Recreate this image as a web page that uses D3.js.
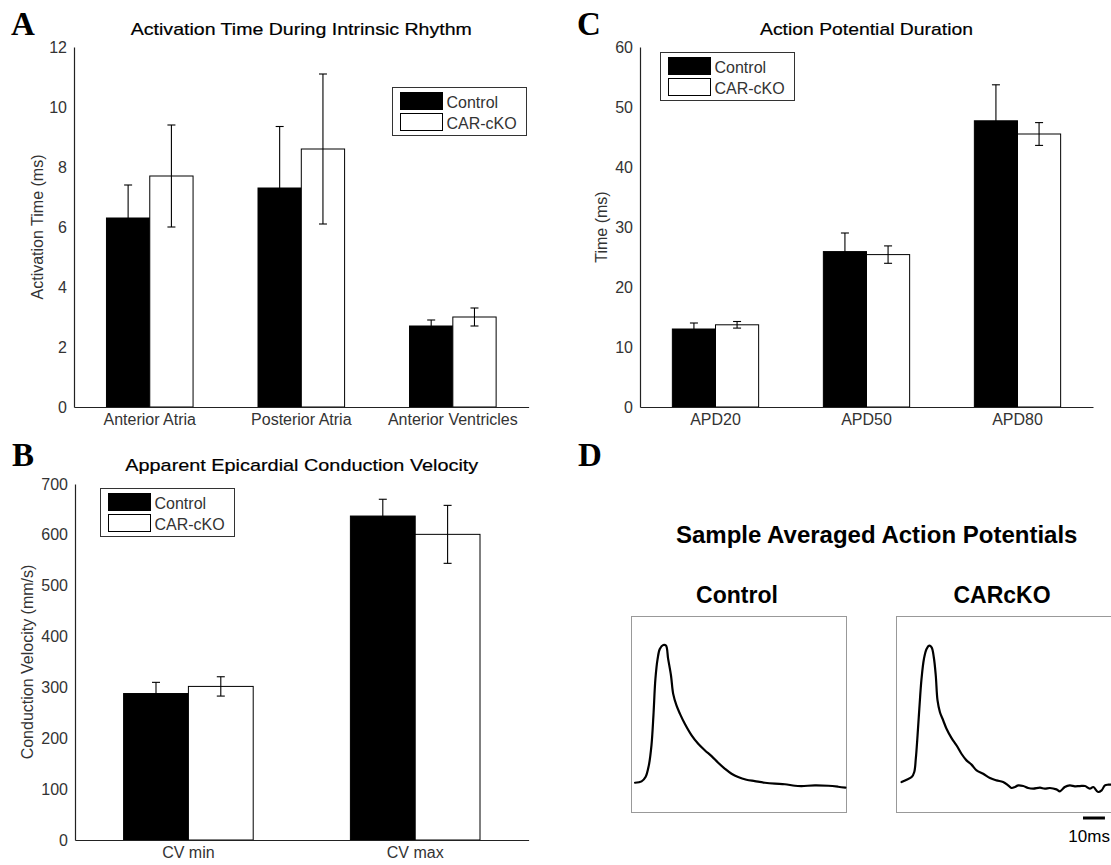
<!DOCTYPE html>
<html>
<head>
<meta charset="utf-8">
<script src="https://cdn.jsdelivr.net/npm/d3@7"></script>
<style>
  html, body { margin: 0; padding: 0; background: #fff; }
  svg { display: block; font-family: "Liberation Sans", Arial, sans-serif; }
</style>
</head>
<body>
<svg id="fig" width="1111" height="865"></svg>
<script>
// ---------- data ----------
const seriesNames = ["Control", "CAR-cKO"];

// A: activation time (ms)
const regions = ["Anterior Atria", "Posterior Atria", "Anterior Ventricles"];
const activationControl = [6.3, 7.3, 2.7];
const activationControlErr = [1.1, 2.05, 0.2];
const activationCKO = [7.7, 8.6, 3.0];
const activationCKOErr = [1.7, 2.5, 0.3];
const activationTicks = [0, 2, 4, 6, 8, 10, 12];

// B: conduction velocity (mm/s)
const cvCategories = ["CV min", "CV max"];
const cvControl = [288, 637];
const cvControlErr = [22, 33];
const cvCKO = [302, 601];
const cvCKOErr = [19, 57];
const cvTicks = [0, 100, 200, 300, 400, 500, 600, 700];

// C: action potential duration (ms)
const apdCategories = ["APD20", "APD50", "APD80"];
const apdControl = [13.0, 25.9, 47.7];
const apdControlErr = [1.0, 3.1, 6.0];
const apdCKO = [13.7, 25.4, 45.5];
const apdCKOErr = [0.55, 1.45, 1.9];
const apdTicks = [0, 10, 20, 30, 40, 50, 60];

// D: averaged optical action potentials, [time (ms), normalized amplitude]
const controlAP = [
  [1.6, 0.002], [4.6, 0.012], [6.4, 0.043], [7.9, 0.128], [9.1, 0.273], [10.0, 0.490],
  [10.9, 0.754], [11.9, 0.899], [12.9, 0.971], [14.5, 1.0], [15.7, 0.996], [16.7, 0.899],
  [18.0, 0.779], [19.0, 0.646], [20.5, 0.562], [22.1, 0.501], [24.3, 0.429], [27.4, 0.345],
  [30.4, 0.284], [33.5, 0.236], [36.5, 0.195], [39.5, 0.147], [42.6, 0.103], [45.6, 0.067],
  [48.6, 0.043], [52.4, 0.024], [56.2, 0.014], [60.8, 0.002], [65.4, -0.005], [69.9, -0.009],
  [74.5, -0.020], [77.5, -0.022], [83.6, -0.017], [89.7, -0.020], [94.2, -0.027], [97.5, -0.034]
];
const ckoAP = [
  [2.3, 0.007], [4.6, 0.024], [6.9, 0.043], [8.1, 0.080], [8.8, 0.176], [9.6, 0.345],
  [10.4, 0.537], [11.4, 0.754], [12.5, 0.899], [13.7, 0.971], [14.9, 0.995], [16.0, 0.983],
  [17.0, 0.911], [17.9, 0.779], [18.7, 0.598], [19.8, 0.513], [21.3, 0.453], [22.8, 0.393],
  [25.1, 0.325], [27.4, 0.272], [29.6, 0.212], [31.9, 0.164], [34.2, 0.133], [36.5, 0.092],
  [39.5, 0.067], [42.6, 0.036], [45.6, 0.019], [48.6, 0.007], [50.9, -0.017], [52.4, -0.036],
  [54.0, -0.029], [55.5, -0.017], [57.8, -0.022], [60.0, -0.036], [62.3, -0.041], [65.4, -0.034],
  [67.6, -0.041], [69.9, -0.036], [72.9, -0.046], [74.5, -0.060], [76.7, -0.029], [79.0, -0.017],
  [81.3, -0.024], [83.6, -0.022], [85.9, -0.022], [88.1, -0.041], [89.7, -0.029], [91.9, -0.065],
  [93.5, -0.053], [95.0, -0.017], [96.5, -0.012], [98.0, -0.012]
];
const traceWindowMs = 98;
const scaleBarMs = 10;

// ---------- drawing ----------
const svg = d3.select("#fig");
const tickColor = "#333";

function panelLetter(letter, x, y) {
  svg.append("text")
    .attr("x", x).attr("y", y)
    .style("font-family", "'Liberation Serif', 'Times New Roman', serif")
    .style("font-weight", "bold")
    .style("font-size", "33px")
    .attr("fill", "#000")
    .text(letter);
}

function barPanel(o) {
  const g = svg.append("g");
  const x = d3.scaleBand().domain(o.categories).range([o.left, o.right])
    .paddingInner(3 / 7).paddingOuter(1.5 / 7);
  const xs = d3.scaleBand().domain(seriesNames).range([0, x.bandwidth()]);
  const y = d3.scaleLinear().domain([0, o.yMax]).range([o.bottom, o.top]);

  const rows = o.categories.map((c, i) => ({
    cat: c,
    values: [
      { s: "Control", v: o.control[i], e: o.controlErr[i] },
      { s: "CAR-cKO", v: o.cko[i], e: o.ckoErr[i] }
    ]
  }));

  const grp = g.selectAll("g.grp").data(rows).join("g")
    .attr("class", "grp")
    .attr("transform", d => `translate(${x(d.cat)},0)`);

  grp.selectAll("rect").data(d => d.values).join("rect")
    .attr("x", d => xs(d.s))
    .attr("y", d => y(d.v))
    .attr("width", xs.bandwidth())
    .attr("height", d => y(0) - y(d.v))
    .attr("fill", d => d.s === "Control" ? "#000" : "#fff")
    .attr("stroke", "#000")
    .attr("stroke-width", 1);

  const cap = 4;
  const eb = grp.selectAll("g.eb").data(d => d.values).join("g").attr("class", "eb")
    .attr("transform", d => `translate(${xs(d.s) + xs.bandwidth() / 2},0)`)
    .attr("stroke", "#000").attr("stroke-width", 1.1);
  eb.append("line").attr("x1", 0).attr("x2", 0)
    .attr("y1", d => y(d.v - d.e)).attr("y2", d => y(d.v + d.e));
  eb.append("line").attr("x1", -cap).attr("x2", cap)
    .attr("y1", d => y(d.v + d.e)).attr("y2", d => y(d.v + d.e));
  eb.append("line").attr("x1", -cap).attr("x2", cap)
    .attr("y1", d => y(d.v - d.e)).attr("y2", d => y(d.v - d.e));

  // axes
  const ax = g.append("g").attr("transform", `translate(0,${o.bottom})`)
    .call(d3.axisBottom(x).tickSize(0).tickPadding(7));
  const ay = g.append("g").attr("transform", `translate(${o.left},0)`)
    .call(d3.axisLeft(y).tickValues(o.ticks).tickSize(0).tickPadding(7));
  [ax, ay].forEach(a => {
    a.attr("font-family", null).attr("font-size", null);
    a.select(".domain").attr("stroke", "#222").attr("stroke-width", 1.2);
    a.selectAll("text").attr("font-size", 16).attr("fill", tickColor);
  });

  // title
  g.append("text")
    .attr("x", (o.left + o.right) / 2).attr("y", o.titleY)
    .attr("text-anchor", "middle")
    .attr("font-size", 17)
    .attr("fill", "#000")
    .attr("stroke", "#000")
    .attr("stroke-width", 0.2)
    .attr("textLength", o.titleWidth)
    .attr("lengthAdjust", "spacingAndGlyphs")
    .text(o.title);

  // y label
  g.append("text")
    .attr("transform", `translate(${o.yLabelX},${(o.top + o.bottom) / 2}) rotate(-90)`)
    .attr("text-anchor", "middle")
    .attr("dominant-baseline", "central")
    .attr("font-size", 16)
    .attr("fill", tickColor)
    .text(o.yLabel);

  // legend
  const lg = g.append("g").attr("transform", `translate(${o.legendX},${o.legendY})`);
  lg.append("rect").attr("width", 134).attr("height", 48)
    .attr("fill", "#fff").attr("stroke", "#333").attr("stroke-width", 1);
  const items = lg.selectAll("g.item").data(seriesNames).join("g").attr("class", "item")
    .attr("transform", (d, i) => `translate(8,${5 + i * 21})`);
  items.append("rect").attr("width", 42).attr("height", 17)
    .attr("fill", d => d === "Control" ? "#000" : "#fff")
    .attr("stroke", "#000").attr("stroke-width", 1);
  items.append("text").attr("x", 46).attr("y", 15)
    .attr("font-size", 16).attr("fill", tickColor)
    .text(d => d);
}

// Panel A
panelLetter("A", 11, 35);
barPanel({
  left: 74, right: 528.6, top: 47, bottom: 407,
  categories: regions, yMax: 12, ticks: activationTicks,
  control: activationControl, controlErr: activationControlErr,
  cko: activationCKO, ckoErr: activationCKOErr,
  title: "Activation Time During Intrinsic Rhythm", titleWidth: 341, titleY: 35,
  yLabel: "Activation Time (ms)", yLabelX: 37,
  legendX: 392.5, legendY: 87.5
});

// Panel B
panelLetter("B", 12, 466);
barPanel({
  left: 75, right: 528.6, top: 484, bottom: 840,
  categories: cvCategories, yMax: 700, ticks: cvTicks,
  control: cvControl, controlErr: cvControlErr,
  cko: cvCKO, ckoErr: cvCKOErr,
  title: "Apparent Epicardial Conduction Velocity", titleWidth: 353, titleY: 470.5,
  yLabel: "Conduction Velocity (mm/s)", yLabelX: 27.5,
  legendX: 100.5, legendY: 488.5
});

// Panel C
panelLetter("C", 577, 35);
barPanel({
  left: 640, right: 1093, top: 47, bottom: 407,
  categories: apdCategories, yMax: 60, ticks: apdTicks,
  control: apdControl, controlErr: apdControlErr,
  cko: apdCKO, ckoErr: apdCKOErr,
  title: "Action Potential Duration", titleWidth: 213, titleY: 35,
  yLabel: "Time (ms)", yLabelX: 601.5,
  legendX: 660.5, legendY: 52.5
});

// Panel D: sample averaged action potentials
panelLetter("D", 578, 466);
svg.append("text")
  .attr("x", 876.7).attr("y", 543)
  .attr("text-anchor", "middle")
  .attr("font-size", 24).attr("font-weight", "bold").attr("fill", "#000")
  .text("Sample Averaged Action Potentials");

const boxW = 215, boxTop = 616, boxBottom = 812;
const tScale = d3.scaleLinear().domain([0, traceWindowMs]).range([0, boxW]);
const vScale = d3.scaleLinear().domain([-0.21, 1.21]).range([boxBottom, boxTop]);
const apLine = d3.line().x(d => tScale(d[0])).y(d => vScale(d[1])).curve(d3.curveCatmullRom.alpha(0.5));

const traces = [
  { name: "Control", data: controlAP, left: 631.5 },
  { name: "CARcKO", data: ckoAP, left: 896.5 }
];
traces.forEach(tr => {
  const g = svg.append("g").attr("transform", `translate(${tr.left},0)`);
  g.append("rect").attr("x", 0).attr("y", boxTop + 0.5).attr("width", boxW).attr("height", boxBottom - boxTop)
    .attr("fill", "none").attr("stroke", "#999").attr("stroke-width", 1);
  g.append("path").attr("d", apLine(tr.data))
    .attr("fill", "none").attr("stroke", "#000").attr("stroke-width", 2.2)
    .attr("stroke-linejoin", "round").attr("stroke-linecap", "round");
  g.append("text")
    .attr("x", boxW / 2 - 2).attr("y", 603)
    .attr("text-anchor", "middle")
    .attr("font-size", 23).attr("font-weight", "bold").attr("fill", "#000")
    .text(tr.name);
});

// 10 ms scale bar
const barX0 = 1083;
svg.append("line")
  .attr("x1", barX0).attr("x2", barX0 + tScale(scaleBarMs))
  .attr("y1", 818).attr("y2", 818)
  .attr("stroke", "#000").attr("stroke-width", 3);
svg.append("text")
  .attr("x", barX0 + tScale(scaleBarMs) + 5).attr("y", 842)
  .attr("text-anchor", "end")
  .attr("font-size", 17).attr("fill", "#000")
  .text(scaleBarMs + "ms");
</script>
</body>
</html>
